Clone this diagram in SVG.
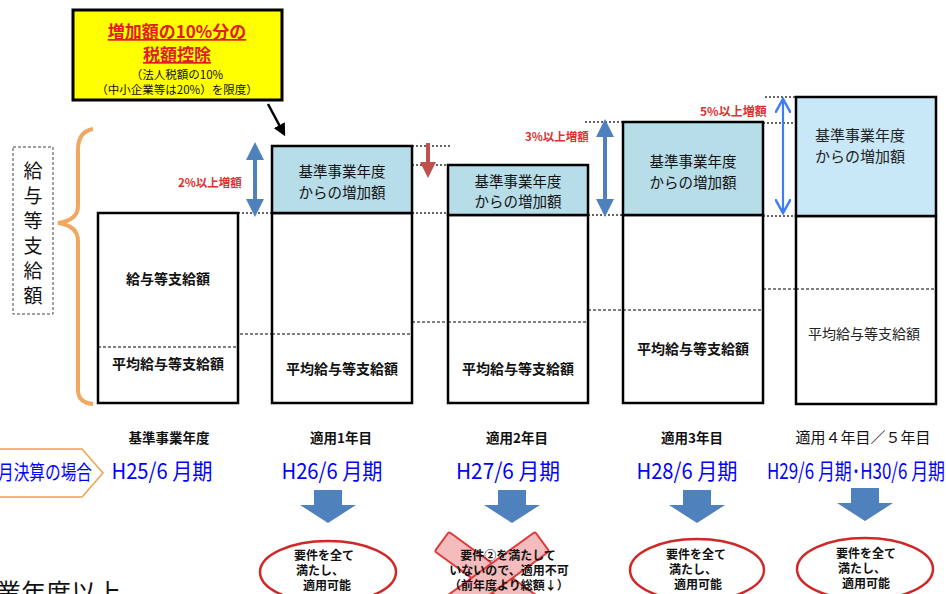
<svg xmlns="http://www.w3.org/2000/svg" width="946" height="594" viewBox="0 0 946 594">
<style>
text{font-family:"Noto Sans CJK JP","Noto Sans",sans-serif;}
.col{fill:#fff;stroke:#000;stroke-width:2.5;}
.inc{fill:#b7dde8;stroke:#000;stroke-width:2.5;}
.inc5{fill:#c8e8f8;stroke:#000;stroke-width:2.5;}
.dot{stroke:#333;stroke-width:1.6;stroke-dasharray:2 2;fill:none;}
.dash{stroke:#000;stroke-width:1;stroke-dasharray:3 2;fill:none;}
.bt{font-size:14.5px;fill:#111;text-anchor:middle;}
.bb{font-size:14px;font-weight:bold;fill:#111;text-anchor:middle;}
.red{font-size:11.5px;font-weight:bold;fill:#e03030;}
.hd{font-size:13.5px;font-weight:bold;fill:#111;text-anchor:middle;}
.bl{font-size:22px;fill:#0000ff;text-anchor:middle;}
.ar{fill:#4f81bd;}
.el{fill:#fff;stroke:#d02828;stroke-width:2.5;}
.et{font-size:12px;font-weight:bold;fill:#111;text-anchor:middle;}
</style>
<defs>
<marker id="hb" viewBox="0 0 10 10" refX="5" refY="5" markerWidth="4.5" markerHeight="4.5" orient="auto-start-reverse"><path d="M0,0 L10,5 L0,10 z" fill="#4f81bd"/></marker>
<marker id="hr" viewBox="0 0 10 10" refX="5" refY="5" markerWidth="4" markerHeight="4" orient="auto-start-reverse"><path d="M0,0 L10,5 L0,10 z" fill="#c0504d"/></marker>
<marker id="hv" viewBox="0 0 10 10" refX="9" refY="5" markerWidth="7" markerHeight="7" orient="auto-start-reverse"><path d="M0,0 L9,5 L0,10" fill="none" stroke="#3d7ef5" stroke-width="1.6"/></marker>
<marker id="hk" viewBox="0 0 10 10" refX="8" refY="5" markerWidth="5" markerHeight="5" orient="auto"><path d="M0,0 L10,5 L0,10 z" fill="#000"/></marker>
</defs>

<g id="callout">
<rect x="73" y="10" width="209" height="90" fill="#ffff00" stroke="#000" stroke-width="3"/>
<text x="177" y="38" style="font-size:17px;font-weight:bold;fill:#e02020;text-anchor:middle;text-decoration:underline;">増加額の10%分の</text>
<text x="177" y="61" style="font-size:17px;font-weight:bold;fill:#e02020;text-anchor:middle;text-decoration:underline;">税額控除</text>
<text x="177" y="79" style="font-size:11.5px;fill:#111;text-anchor:middle;">（法人税額の10%</text>
<text x="177" y="94" style="font-size:11.5px;fill:#111;text-anchor:middle;">（中小企業等は20%）を限度）</text>
</g>

<g id="side-label">
<path d="M93,129 C81,131 78,140 78,150 L78,206 C78,215 72,221 58,223 C72,225 78,231 78,241 L78,390 C78,398 82,403 93,404" fill="none" stroke="#f0a860" stroke-width="4"/>
<rect x="13" y="147" width="40" height="167" fill="#fff" stroke="#444" stroke-width="1" stroke-dasharray="3 2"/>
<text x="33" y="178" style="font-size:19px;fill:#111;text-anchor:middle;">給</text>
<text x="33" y="203" style="font-size:19px;fill:#111;text-anchor:middle;">与</text>
<text x="33" y="228" style="font-size:19px;fill:#111;text-anchor:middle;">等</text>
<text x="33" y="253" style="font-size:19px;fill:#111;text-anchor:middle;">支</text>
<text x="33" y="278" style="font-size:19px;fill:#111;text-anchor:middle;">給</text>
<text x="33" y="303" style="font-size:19px;fill:#111;text-anchor:middle;">額</text>
</g>

<g id="connectors">
<line x1="268" y1="104" x2="284" y2="134" stroke="#000" stroke-width="2.5" marker-end="url(#hk)"/>
<line x1="238" y1="213" x2="272" y2="213" class="dot"/>
<line x1="412" y1="146" x2="452" y2="146" class="dot"/>
<line x1="412" y1="165" x2="448" y2="165" class="dot"/>
<line x1="412" y1="213" x2="448" y2="213" class="dot"/>
<line x1="588" y1="215" x2="623" y2="215" class="dot"/>
<line x1="585" y1="122" x2="623" y2="122" class="dot"/>
<line x1="765" y1="97" x2="796" y2="97" class="dot"/>
<line x1="763" y1="123" x2="796" y2="123" class="dot"/>
<line x1="763" y1="216" x2="796" y2="216" class="dot"/>
<line x1="240" y1="334" x2="272" y2="334" class="dash"/>
<line x1="412" y1="322" x2="448" y2="322" class="dash"/>
<line x1="588" y1="310" x2="623" y2="310" class="dash"/>
<line x1="763" y1="289" x2="796" y2="289" class="dash"/>
<line x1="255" y1="151" x2="255" y2="208" stroke="#4f81bd" stroke-width="4" marker-start="url(#hb)" marker-end="url(#hb)"/>
<line x1="428" y1="143" x2="428" y2="170" stroke="#c0504d" stroke-width="4" marker-end="url(#hr)"/>
<line x1="605" y1="128" x2="605" y2="208" stroke="#4f81bd" stroke-width="4" marker-start="url(#hb)" marker-end="url(#hb)"/>
<line x1="783" y1="99" x2="783" y2="213" stroke="#3d7ef5" stroke-width="2.2" marker-start="url(#hv)" marker-end="url(#hv)"/>
<text x="178" y="187" class="red">2%以上増額</text>
<text x="525" y="141" class="red">3%以上増額</text>
<text x="700" y="116" class="red" style="font-size:12px">5%以上増額</text>
</g>

<g id="col1">
<rect x="98" y="213" width="140" height="190" class="col"/>
<line x1="98" y1="347" x2="238" y2="347" class="dash"/>
<text x="168" y="284" class="bb">給与等支給額</text>
<text x="168" y="369" class="bb">平均給与等支給額</text>
</g>

<g id="col2">
<rect x="272" y="213" width="140" height="190" class="col"/>
<rect x="272" y="146" width="140" height="67" class="inc"/>
<line x1="272" y1="334" x2="412" y2="334" class="dash"/>
<text x="342" y="177" class="bt">基準事業年度</text>
<text x="342" y="198" class="bt">からの増加額</text>
<text x="342" y="374" class="bb">平均給与等支給額</text>
</g>

<g id="col3">
<rect x="448" y="215" width="140" height="188" class="col"/>
<rect x="448" y="165" width="140" height="50" class="inc"/>
<line x1="448" y1="322" x2="588" y2="322" class="dash"/>
<text x="518" y="187" class="bt">基準事業年度</text>
<text x="518" y="207" class="bt">からの増加額</text>
<text x="518" y="374" class="bb">平均給与等支給額</text>
</g>

<g id="col4">
<rect x="623" y="215" width="140" height="188" class="col"/>
<rect x="623" y="122" width="140" height="93" class="inc"/>
<line x1="623" y1="310" x2="763" y2="310" class="dash"/>
<text x="693" y="167" class="bt">基準事業年度</text>
<text x="693" y="188" class="bt">からの増加額</text>
<text x="693" y="354" class="bb">平均給与等支給額</text>
</g>

<g id="col5">
<rect x="796" y="216" width="140" height="188" class="col"/>
<rect x="796" y="97" width="140" height="119" class="inc5"/>
<line x1="796" y1="289" x2="936" y2="289" class="dash"/>
<text x="815" y="141" style="font-size:15px;fill:#222;">基準事業年度</text>
<text x="815" y="162" style="font-size:15px;fill:#222;">からの増加額</text>
<text x="864" y="339" style="font-size:14px;fill:#222;text-anchor:middle;">平均給与等支給額</text>
</g>

<g id="headings">
<text x="169" y="443" class="hd">基準事業年度</text>
<text x="341" y="443" class="hd">適用1年目</text>
<text x="517" y="443" class="hd">適用2年目</text>
<text x="692" y="443" class="hd">適用3年目</text>
<text x="863" y="443" style="font-size:15px;fill:#111;text-anchor:middle;">適用４年目／５年目</text>
</g>

<g id="fiscal-tag">
<path d="M-5,449 L82,449 L103,473 L82,497 L-5,497 Z" fill="#fff" stroke="#f0a050" stroke-width="1.5"/>
<text x="92" y="480" style="font-size:20px;fill:#0000ff;text-anchor:end;" textLength="94" lengthAdjust="spacingAndGlyphs">月決算の場合</text>
</g>

<g id="periods">
<text x="162" y="479" class="bl" textLength="101" lengthAdjust="spacingAndGlyphs">H25/6 月期</text>
<text x="332" y="479" class="bl" textLength="101" lengthAdjust="spacingAndGlyphs">H26/6 月期</text>
<text x="508" y="479" class="bl" textLength="104" lengthAdjust="spacingAndGlyphs">H27/6 月期</text>
<text x="687" y="479" class="bl" textLength="101" lengthAdjust="spacingAndGlyphs">H28/6 月期</text>
<text x="856" y="479" class="bl" textLength="178" lengthAdjust="spacingAndGlyphs">H29/6 月期･H30/6 月期</text>
</g>

<g id="down-arrows">
<path class="ar" d="M314,490 h28 v15 h14 l-28,18 l-28,-18 h14 z"/>
<path class="ar" d="M498,490 h28 v15 h14 l-28,18 l-28,-18 h14 z"/>
<path class="ar" d="M683,490 h28 v15 h14 l-28,18 l-28,-18 h14 z"/>
<path class="ar" d="M851,488 h28 v15 h14 l-28,18 l-28,-18 h14 z"/>
</g>

<g id="result1">
<ellipse cx="328" cy="572" rx="68" ry="31" class="el"/>
<text x="324" y="560" class="et">要件を全て</text>
<text x="320" y="575" class="et">満たし、</text>
<text x="327" y="590" class="et">適用可能</text>
</g>

<g id="result2">
<g transform="translate(492,578)">
<rect x="-62" y="-12" width="124" height="24" rx="2" transform="rotate(36)" fill="#f4bcbc" stroke="#e03a3a" stroke-width="2"/>
<rect x="-62" y="-12" width="124" height="24" rx="2" transform="rotate(-36)" fill="#f4bcbc" stroke="#e03a3a" stroke-width="2"/>
</g>
<text x="508" y="560" class="et">要件②を満たして</text>
<text x="509" y="575" class="et">いないので、適用不可</text>
<text x="509" y="590" class="et">（前年度より総額↓）</text>
</g>

<g id="result3">
<ellipse cx="697" cy="570" rx="67" ry="31" class="el"/>
<text x="696" y="559" class="et">要件を全て</text>
<text x="693" y="574" class="et">満たし、</text>
<text x="698" y="589" class="et">適用可能</text>
</g>

<g id="result4">
<ellipse cx="865" cy="569" rx="68" ry="31" class="el"/>
<text x="866" y="558" class="et">要件を全て</text>
<text x="862" y="573" class="et">満たし、</text>
<text x="866" y="588" class="et">適用可能</text>
</g>

<text x="-4" y="602" style="font-size:25px;fill:#111;">業年度以上</text>
</svg>
